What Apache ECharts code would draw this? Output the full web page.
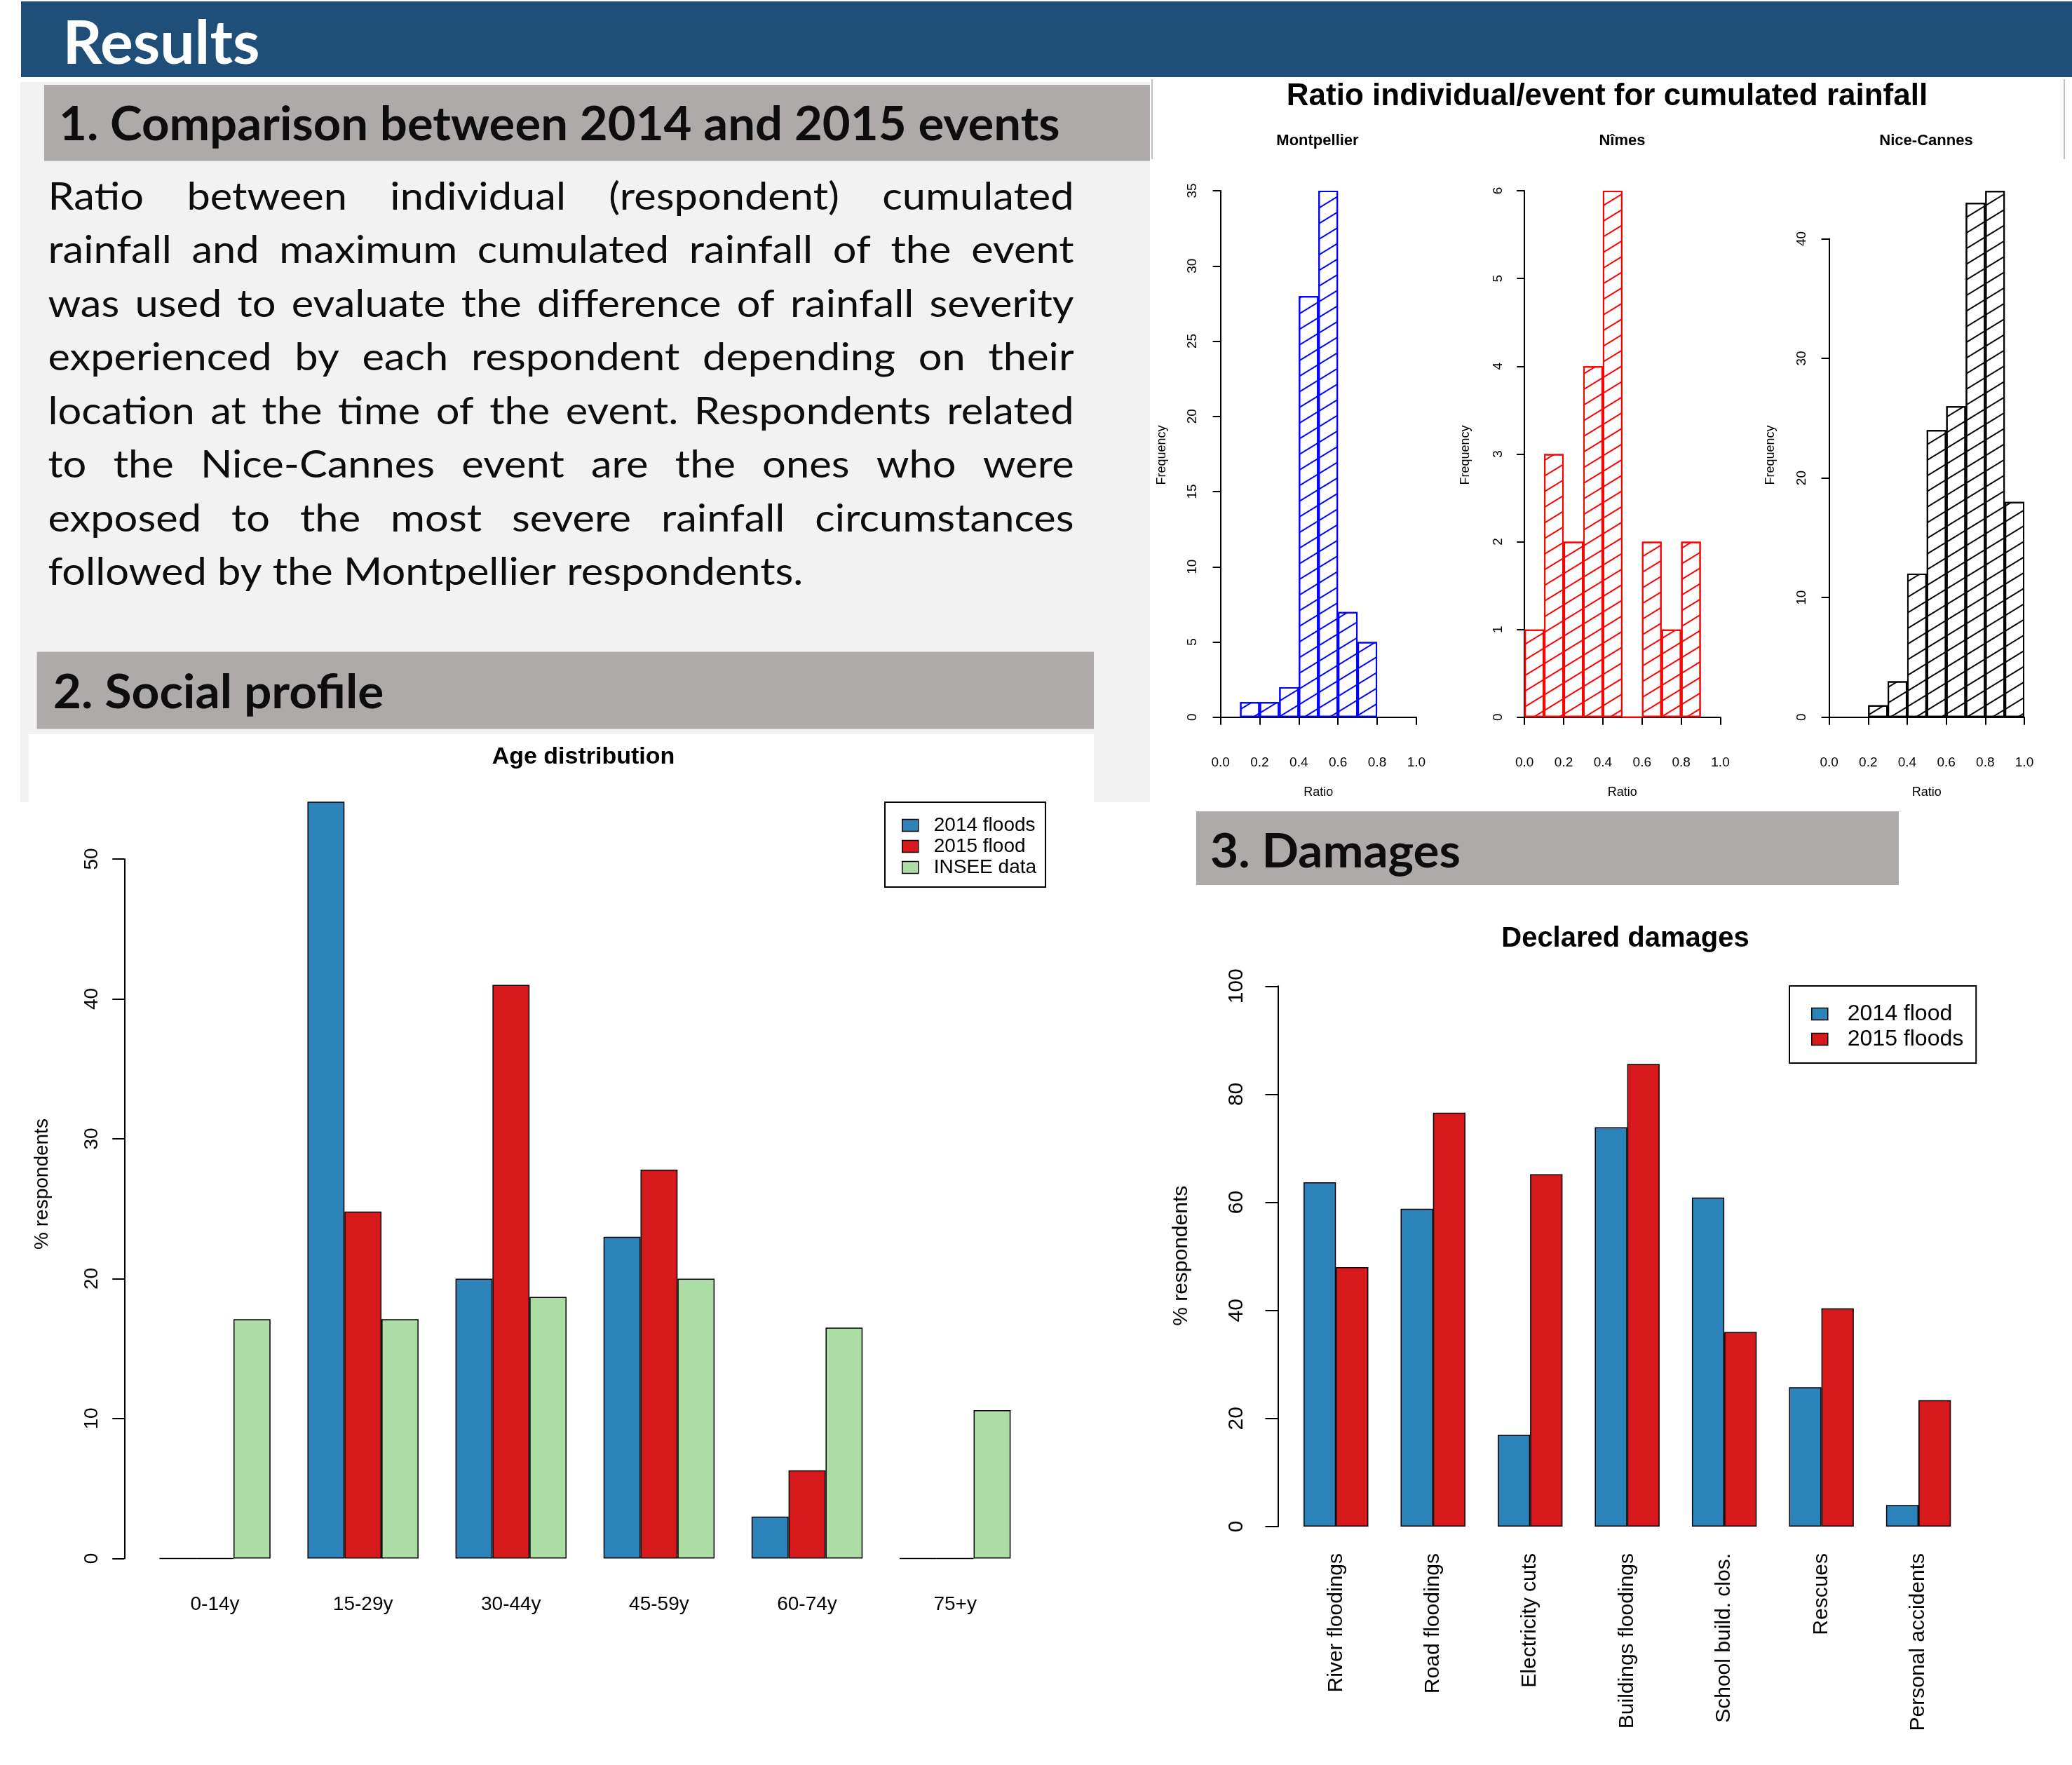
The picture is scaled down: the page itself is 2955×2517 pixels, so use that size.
<!DOCTYPE html>
<html>
<head>
<meta charset="utf-8">
<title>Results</title>
<script src="https://cdn.jsdelivr.net/npm/echarts@6/dist/echarts.min.js"></script>
<style>
html, body { margin: 0; padding: 0; background: #fff; }
#chartmain { width: 2955px; height: 2517px; }
</style>
</head>
<body>
<div id="chartmain"></div>
<script>
// histogram bins of the ratio individual / event
var histBins = ['0.0-0.1', '0.1-0.2', '0.2-0.3', '0.3-0.4', '0.4-0.5', '0.5-0.6', '0.6-0.7', '0.7-0.8', '0.8-0.9', '0.9-1.0'];
var montpellierCounts = [null, 1, 1, 2, 28, 35, 7, 5, null, null];
var nimesCounts = [1, 3, 2, 4, 6, 0, 2, 1, 2, null];
var niceCannesCounts = [null, null, 1, 3, 12, 24, 26, 43, 44, 18];

// age distribution (% respondents)
var ageGroups = ['0-14y', '15-29y', '30-44y', '45-59y', '60-74y', '75+y'];
var age2014 = [0, 54.1, 20.0, 23.0, 3.0, 0];
var age2015 = [0, 24.8, 41.0, 27.8, 6.3, 0];
var ageInsee = [17.1, 17.1, 18.7, 20.0, 16.5, 10.6];

// declared damages (% respondents)
var damageTypes = ['River floodings', 'Road floodings', 'Electricity cuts', 'Buildings floodings', 'School build. clos.', 'Rescues', 'Personal accidents'];
var damages2014 = [63.7, 58.8, 17.0, 73.9, 60.9, 25.8, 4.0];
var damages2015 = [48.0, 76.6, 65.2, 85.6, 36.0, 40.4, 23.4];

var paraLines = [
	'Ratio between individual (respondent) cumulated',
	'rainfall and maximum cumulated rainfall of the event',
	'was used to evaluate the difference of rainfall severity',
	'experienced by each respondent depending on their',
	'location at the time of the event. Respondents related',
	'to the Nice-Cannes event are the ones who were',
	'exposed to the most severe rainfall circumstances',
	'followed by the Montpellier respondents.'
];

var R_FONT = '"Liberation Sans", Arial, sans-serif';
var POSTER_FONT = 'Lato, "Open Sans", sans-serif';
var BRAND_BLUE = '#2B83BA', BRAND_RED = '#D7191C', BRAND_GREEN = '#ABDDA4';
var LATO_MID = 0.33; // baseline to middle, in em

var measureCtx = document.createElement('canvas').getContext('2d');
function textWidth(str, size, weight){
	measureCtx.font = (weight || 'normal') + ' ' + size + 'px ' + POSTER_FONT;
	return measureCtx.measureText(str).width;
}

function txt(str, x, y, size, opts){
	opts = opts || {};
	return {
		type: 'text', x: x, y: y, rotation: opts.rotation || 0, scaleX: opts.scaleX || 1,
		style: {
			text: str, fontSize: size, fontFamily: opts.family || R_FONT, fontWeight: opts.weight || 'normal',
			fill: opts.color || '#000',
			align: opts.align || 'center', verticalAlign: 'middle',
			textAlign: opts.align || 'center', textVerticalAlign: 'middle'
		}
	};
}

// section headers, squeezed to the width they have on the poster (y = baseline)
function headerText(str, x, baseline, size, width, color){
	return txt(str, x, baseline - LATO_MID * size, size, {family: POSTER_FONT, weight: 'bold', align: 'left', color: color,
		scaleX: width / textWidth(str, size, 'bold')});
}

function rect(x, y, w, h, color){
	return { type: 'rect', z: -10, shape: {x: x, y: y, width: w, height: h}, style: {fill: color} };
}

// justified paragraph, word by word
function paragraph(){
	var els = [];
	var size = 54, left = 68.4, right = 1531.6;
	var sx = 1077 / textWidth(paraLines[paraLines.length - 1], size);
	for(var i = 0; i < paraLines.length; i++){
		var words = paraLines[i].split(' ');
		var widths = words.map(function(w){ return textWidth(w, size) * sx; });
		var total = widths.reduce(function(a, b){ return a + b; }, 0);
		var gap = (i == paraLines.length - 1) ? textWidth(' ', size) * sx : (right - left - total) / (words.length - 1);
		var y = 299.1 + i * 76.5 - LATO_MID * size;
		var x = left;
		for(var k = 0; k < words.length; k++){
			els.push(txt(words[k], x, y, size, {family: POSTER_FONT, align: 'left', scaleX: sx, color: '#0d0d0d'}));
			x += widths[k] + gap;
		}
	}
	return els;
}

var grids = [], xAxes = [], yAxes = [], series = [];
var HIST_BASE = 1022.8;

function addHist(left, right, top, yMax, yStep, yOffset, counts, color){
	var g = grids.length;
	grids.push({left: left, top: top, width: right - left, height: HIST_BASE - top, outerBoundsMode: 'none'});
	xAxes.push({
		gridIndex: g, type: 'value', min: 0, max: 1, interval: 0.2, position: 'bottom', offset: 30,
		axisLine: {show: true, lineStyle: {color: '#000', width: 2}},
		axisTick: {show: true, length: 11, lineStyle: {color: '#000', width: 2}},
		axisLabel: {fontFamily: R_FONT, fontSize: 19, color: '#000', margin: 25, formatter: function(v){ return v.toFixed(1); }},
		splitLine: {show: false},
		name: 'Ratio', nameLocation: 'middle', nameGap: 68,
		nameTextStyle: {fontFamily: R_FONT, fontSize: 18, color: '#000'}
	});
	xAxes.push({gridIndex: g, type: 'category', data: histBins, show: false, position: 'top'});
	yAxes.push({
		gridIndex: g, type: 'value', min: 0, max: yMax, interval: yStep, offset: yOffset,
		axisLine: {show: true, lineStyle: {color: '#000', width: 2}},
		axisTick: {show: true, length: 11, lineStyle: {color: '#000', width: 2}},
		axisLabel: {fontFamily: R_FONT, fontSize: 19, color: '#000', rotate: 90, margin: 18},
		splitLine: {show: false}
	});
	series.push({
		type: 'bar', xAxisIndex: xAxes.length - 1, yAxisIndex: yAxes.length - 1,
		data: counts, barCategoryGap: '0%', clip: false, silent: true,
		itemStyle: {
			color: '#fff', borderColor: color, borderWidth: 2,
			decal: {symbol: 'rect', symbolSize: 1, color: color, dashArrayX: [1, 0], dashArrayY: [1.5, 17], rotation: -0.55}
		}
	});
}

addHist(1740.6, 2019.9, 272, 35, 5, 12.6, montpellierCounts, '#0000ff');
addHist(2174.2, 2453.5, 272, 6, 1, 10, nimesCounts, '#ff0000');
addHist(2608.6, 2887, 340.4, 40, 10, 11.7, niceCannesCounts, '#000000');

// age distribution
var ageGrid = grids.length;
grids.push({left: 201, top: 1225, width: 1266.7, height: 997.5, outerBoundsMode: 'none'});
xAxes.push({
	gridIndex: ageGrid, type: 'category', data: ageGroups,
	axisLine: {show: false}, axisTick: {show: false},
	axisLabel: {interval: 0, fontFamily: R_FONT, fontSize: 28, color: '#000', margin: 52}
});
yAxes.push({
	gridIndex: ageGrid, type: 'value', min: 0, max: 50, interval: 10, offset: 23.7,
	axisLine: {show: true, lineStyle: {color: '#000', width: 2}},
	axisTick: {show: true, length: 17, lineStyle: {color: '#000', width: 2}},
	axisLabel: {fontFamily: R_FONT, fontSize: 28, color: '#000', rotate: 90, margin: 32},
	splitLine: {show: false}
});
[['2014 floods', age2014, BRAND_BLUE], ['2015 flood', age2015, BRAND_RED], ['INSEE data', ageInsee, BRAND_GREEN]].forEach(function(s){
	series.push({
		name: s[0], type: 'bar', xAxisIndex: xAxes.length - 1, yAxisIndex: yAxes.length - 1,
		data: s[1], barWidth: 52.8, barGap: '0%', clip: false, silent: true,
		itemStyle: {color: s[2], borderColor: '#000', borderWidth: 1.5}
	});
});

// declared damages
var dmgGrid = grids.length;
grids.push({left: 1836, top: 1406.3, width: 969.3, height: 770.7, outerBoundsMode: 'none'});
xAxes.push({
	gridIndex: dmgGrid, type: 'category', data: damageTypes,
	axisLine: {show: false}, axisTick: {show: false},
	axisLabel: {interval: 0, fontFamily: R_FONT, fontSize: 30, color: '#000', rotate: 90, margin: 38}
});
yAxes.push({
	gridIndex: dmgGrid, type: 'value', min: 0, max: 100, interval: 20, offset: 13.5,
	axisLine: {show: true, lineStyle: {color: '#000', width: 2}},
	axisTick: {show: true, length: 18, lineStyle: {color: '#000', width: 2}},
	axisLabel: {fontFamily: R_FONT, fontSize: 30, color: '#000', rotate: 90, margin: 44},
	splitLine: {show: false}
});
[['2014 flood', damages2014, BRAND_BLUE], ['2015 floods', damages2015, BRAND_RED]].forEach(function(s){
	series.push({
		name: s[0], type: 'bar', xAxisIndex: xAxes.length - 1, yAxisIndex: yAxes.length - 1,
		data: s[1], barWidth: 46.2, barGap: '0%', silent: true,
		itemStyle: {color: s[2], borderColor: '#000', borderWidth: 1.5}
	});
});

var graphics = [
	rect(29, 117, 1611, 1027, '#f2f2f2'),
	rect(30, 2, 2925, 108, '#1f4e79'),
	rect(63, 121, 1577, 108.5, '#aeaaaa'),
	rect(52.6, 929.6, 1507.4, 110, '#aeaaaa'),
	rect(41, 1047, 1519, 97, '#ffffff'),
	rect(1706, 1157, 1002, 105, '#aeaaaa'),
	{type: 'line', z: -5, shape: {x1: 1643, y1: 113, x2: 1643, y2: 227}, style: {stroke: '#bfbfbf', lineWidth: 2}},
	{type: 'line', z: -5, shape: {x1: 2944, y1: 113, x2: 2944, y2: 227}, style: {stroke: '#bfbfbf', lineWidth: 2}},
	headerText('Results', 89.5, 91.6, 87, 281, '#ffffff'),
	headerText('1. Comparison between 2014 and 2015 events', 84, 200.1, 66.4, 1427.6, '#0d0d0d'),
	headerText('2. Social profile', 75.8, 1010.3, 66.5, 471.6, '#0d0d0d'),
	headerText('3. Damages', 1726, 1237.2, 67, 357, '#0d0d0d'),
	txt('Ratio individual/event for cumulated rainfall', 2292, 138, 44, {weight: 'bold'}),
	txt('Montpellier', 1879, 201, 22, {weight: 'bold'}),
	txt('Nîmes', 2313.4, 201, 22, {weight: 'bold'}),
	txt('Nice-Cannes', 2747, 201, 22, {weight: 'bold'}),
	txt('Frequency', 1656.8, 649, 18, {rotation: Math.PI / 2}),
	txt('Frequency', 2090.3, 649, 18, {rotation: Math.PI / 2}),
	txt('Frequency', 2524.8, 649, 18, {rotation: Math.PI / 2}),
	txt('Age distribution', 832, 1080, 34, {weight: 'bold'}),
	txt('% respondents', 60, 1688.5, 28, {rotation: Math.PI / 2}),
	txt('Declared damages', 2318, 1339, 40, {weight: 'bold'}),
	txt('% respondents', 1685, 1790.8, 30, {rotation: Math.PI / 2})
].concat(paragraph());

var myChart = echarts.init(document.getElementById('chartmain'));
option = {
	animation: false,
	backgroundColor: '#fff',
	textStyle: {fontFamily: R_FONT},
	graphic: {elements: graphics},
	legend: [{
		data: ['2014 floods', '2015 flood', 'INSEE data'], orient: 'vertical', left: 1262, top: 1144,
		padding: [18, 13, 13, 24], itemWidth: 23, itemHeight: 17, itemGap: 0, icon: 'rect',
		borderColor: '#000', borderWidth: 2, backgroundColor: '#fff', selectedMode: false,
		itemStyle: {borderColor: '#000', borderWidth: 1.5},
		textStyle: {fontFamily: R_FONT, fontSize: 28, color: '#000', lineHeight: 30, padding: [0, 0, 0, 17]}
	}, {
		data: ['2014 flood', '2015 floods'], orient: 'vertical', left: 2552, top: 1406,
		padding: [23, 18, 17, 31], itemWidth: 23, itemHeight: 17, itemGap: 2, icon: 'rect',
		borderColor: '#000', borderWidth: 2, backgroundColor: '#fff', selectedMode: false,
		itemStyle: {borderColor: '#000', borderWidth: 1.5},
		textStyle: {fontFamily: R_FONT, fontSize: 32, color: '#000', lineHeight: 34, padding: [0, 0, 0, 23]}
	}],
	grid: grids,
	xAxis: xAxes,
	yAxis: yAxes,
	series: series
};
myChart.setOption(option);
</script>
</body>
</html>
